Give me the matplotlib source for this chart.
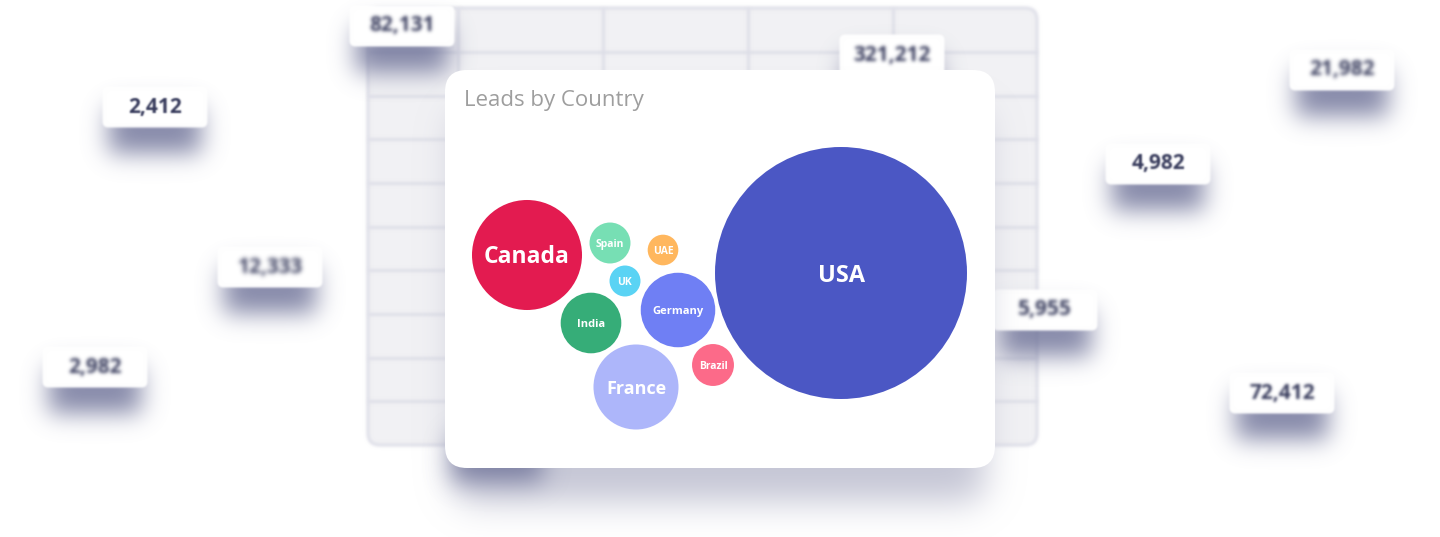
import numpy as np
import matplotlib
matplotlib.use("Agg")
import matplotlib.pyplot as plt
from matplotlib.patches import FancyBboxPatch, Circle, Rectangle
from matplotlib.colors import to_rgb

plt.rcParams["font.family"] = ["Open Sans", "DejaVu Sans"]

# bubble chart: leads per country
countries = ["USA", "Canada", "France", "Germany", "India", "Brazil", "Spain", "UK", "UAE"]
leads = [15900, 3030, 1810, 1390, 920, 440, 420, 240, 235]
# packed layout, bubble centres inside the plot area (px)
bubble_x = [396, 82, 191, 233, 146, 268, 165, 180, 218]
bubble_y = [203, 185, 317, 240, 253, 295, 173, 211, 180]
bubble_colors = ["#4b57c4", "#e31b50", "#adb6fa", "#6f7ff4", "#36ad78",
                 "#fc6a89", "#77dfb4", "#5ad3f4", "#ffb75e"]
label_sizes = [17, 16.5, 13, 8, 8, 7.5, 7.5, 7.5, 7.5]

# blurred numbers floating in the background
card_values = ["82,131", "321,212", "2,412", "12,333", "2,982",
               "21,982", "4,982", "5,955", "72,412"]
card_x = [402, 892, 155, 270, 95, 1342, 1158, 1045, 1282]
card_y = [26, 55, 107, 267, 367, 70, 164, 310, 393]
card_blur = [1.8, 1.8, 0.8, 2.3, 1.8, 2.0, 0.9, 1.8, 1.4]

# background table grid
table_cols = [458, 603, 748, 893]
table_rows = np.linspace(52, 445, 10)[:-1]


def blur_1d(a, k, axis):
    r = len(k) // 2
    pad = [(0, 0)] * a.ndim
    pad[axis] = (r, r)
    p = np.pad(a, pad)
    n = a.shape[axis]
    out = np.zeros_like(a)
    for i, w in enumerate(k):
        out += w * np.take(p, np.arange(i, i + n), axis=axis)
    return out


class Soften:
    """agg filter: gaussian blur of the artist's alpha, painted in one colour"""

    def __init__(self, sigma, color, alpha=1.0):
        self.sigma = sigma
        self.rgb = to_rgb(color)
        self.alpha = alpha

    def __call__(self, im, dpi):
        s = self.sigma * dpi / 100
        r = int(3 * s) + 1
        x = np.arange(-r, r + 1)
        k = np.exp(-0.5 * (x / s) ** 2)
        k /= k.sum()
        pad = r + 1
        a = np.pad(im[..., 3], pad)
        a = blur_1d(blur_1d(a, k, 0), k, 1)
        out = np.empty(a.shape + (4,))
        out[..., :3] = self.rgb
        out[..., 3] = np.clip(a * self.alpha, 0, 1)
        return out, -pad, -pad


fig = plt.figure(figsize=(14.4, 5.37), dpi=100)
ax = fig.add_axes([0, 0, 1, 1])
ax.set_xlim(0, 1440)
ax.set_ylim(537, 0)
ax.axis("off")

# table behind everything
tbl = FancyBboxPatch((368, 8), 669, 437, boxstyle="round,pad=0,rounding_size=12",
                     fc="#f1f1f4", ec="none", zorder=1)
tbl.set_agg_filter(Soften(1.2, "#f1f1f4"))
ax.add_patch(tbl)
tbl_edge = FancyBboxPatch((368, 8), 669, 437, boxstyle="round,pad=0,rounding_size=12",
                          fc="none", ec="#dcdde7", lw=2, zorder=2)
tbl_edge.set_agg_filter(Soften(1.5, "#dcdde7"))
ax.add_patch(tbl_edge)
grid_h = ax.hlines(table_rows, 368, 1037, color="#dcdde7", lw=2, zorder=2)
grid_h.set_agg_filter(Soften(1.5, "#dcdde7"))
grid_v = ax.vlines(table_cols, 8, 445, color="#dcdde7", lw=2, zorder=2)
grid_v.set_agg_filter(Soften(1.5, "#dcdde7"))

# floating number cards
for val, cx, cy, b in zip(card_values, card_x, card_y, card_blur):
    sh = Rectangle((cx - 46, cy), 92, 46, fc="#6f7399", ec="none", zorder=3)
    sh.set_agg_filter(Soften(12, "#6f7399", 0.85))
    ax.add_patch(sh)
    card = FancyBboxPatch((cx - 52.5, cy - 20.5), 105, 41,
                          boxstyle="round,pad=0,rounding_size=6",
                          fc="white", ec="none", zorder=4)
    card.set_agg_filter(Soften(1.0, "white"))
    ax.add_patch(card)
    t = ax.text(cx, cy, val, ha="center", va="center", fontsize=15,
                fontweight="bold", color="#363a5b", zorder=5)
    t.set_agg_filter(Soften(b, "#363a5b"))

# shadow of the main card and of a card hidden under it
msh = FancyBboxPatch((455, 110), 530, 392, boxstyle="round,pad=0,rounding_size=22",
                     fc="#c2c3d3", ec="none", zorder=6)
msh.set_agg_filter(Soften(17, "#c2c3d3", 0.95))
ax.add_patch(msh)
hsh = Rectangle((452, 435), 90, 46, fc="#6f7399", ec="none", zorder=6)
hsh.set_agg_filter(Soften(12, "#6f7399", 0.85))
ax.add_patch(hsh)

main = FancyBboxPatch((445, 70), 550, 398, boxstyle="round,pad=0,rounding_size=22",
                      fc="white", ec="none", zorder=7)
ax.add_patch(main)

# bubble chart inside the card
bx = fig.add_axes([445 / 1440, (537 - 468) / 537, 550 / 1440, 398 / 537])
bx.set_xlim(0, 550)
bx.set_ylim(398, 0)
bx.axis("off")
bx.set_zorder(2)

bx.text(18.5, 35.7, "Leads by Country", ha="left", va="baseline",
        fontsize=16, color="#9e9e9e")

r_max = 126
v_max = max(leads)
for name, v, x, y, c, fs in zip(countries, leads, bubble_x, bubble_y,
                                bubble_colors, label_sizes):
    r = r_max * np.sqrt(v / v_max)
    bx.add_patch(Circle((x, y), r, fc=c, ec="none"))
    # baseline placed so the capitals sit centred in the bubble
    bx.text(x, y + 0.36 * fs * 100 / 72, name, ha="center", va="baseline",
            fontsize=fs, fontweight="bold", color="white")

fig.savefig("out.png", dpi=100)
